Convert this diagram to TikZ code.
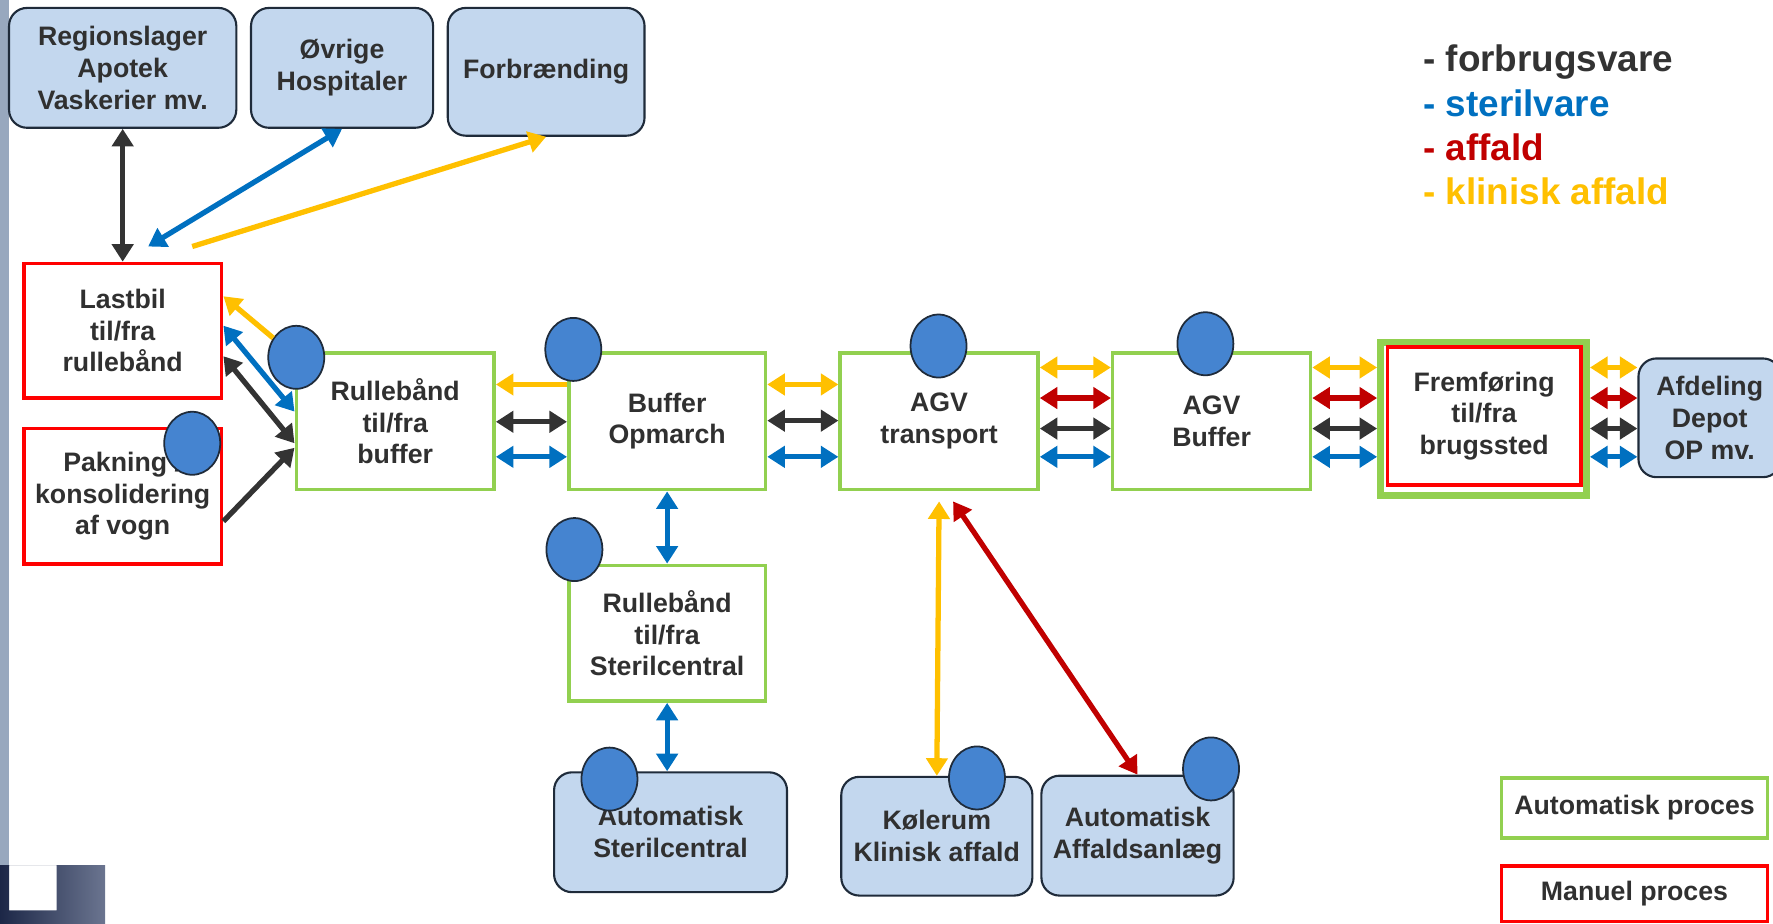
\documentclass[tikz,border=0pt]{standalone}
\usepackage{fontspec}
\setmainfont{Liberation Sans}
\usetikzlibrary{arrows.meta,shapes.geometric}
\definecolor{txt}{HTML}{303030}
\definecolor{blk}{HTML}{333333}
\definecolor{blu}{HTML}{0070C0}
\definecolor{rd}{HTML}{C00000}
\definecolor{ylw}{HTML}{FFC000}
\definecolor{grn}{HTML}{92D050}
\definecolor{mred}{HTML}{FF0000}
\definecolor{lblue}{HTML}{C3D7EE}
\definecolor{dotc}{HTML}{4584D0}
\definecolor{edgec}{HTML}{1F2B3A}
\definecolor{barc}{HTML}{98A8BE}
\definecolor{navyA}{HTML}{1C2747}
\definecolor{navyB}{HTML}{6B7590}

\begin{document}
\begin{tikzpicture}[x=0.11307mm, y=-0.11307mm,
  every node/.style={font=\bfseries\fontsize{7.6}{9}\selectfont, text=txt, align=center, inner sep=0pt},
  sz/.style 2 args={minimum width=#1*0.11307mm, minimum height=#2*0.11307mm},
  autobox/.style={draw=grn, line width=1pt},
  manbox/.style={draw=mred, line width=1pt},
  ext/.style={draw=edgec, line width=0.6pt, fill=lblue, rounded corners=1.8mm},
  dot/.style={ellipse, draw=edgec, line width=0.5pt, fill=dotc, minimum width=5.6mm, minimum height=6.3mm},
  lgd/.style={font=\bfseries\fontsize{10.5}{12.6}\selectfont, anchor=base west},
  arr/.style={line width=1.5pt, -{Triangle[length=5pt, width=6pt]}},
  dbl/.style={line width=1.5pt, {Triangle[length=5pt, width=6pt]}-{Triangle[length=5pt, width=6pt]}}]
\clip (0,0) rectangle (1568,817);
\fill[barc] (0,0) rectangle (8,765);
\shade[left color=navyA, right color=navyB, even odd rule] (0,765) rectangle (93,817) (8,765) rectangle (50,805);

\node[ext, sz={201}{106}] (reg) at (108.5,60) {Regionslager\\Apotek\\Vaskerier mv.};
\node[ext, sz={161}{106}] (hosp) at (302.5,60) {Øvrige\\Hospitaler};
\node[ext, sz={174}{113}] (forb) at (483,63.5) {Forbrænding};
\node[manbox, sz={175}{119}] (last) at (108.5,292.5) {Lastbil\\til/fra\\rullebånd};
\node[manbox, sz={175}{120}] (pak) at (108.5,439) {Pakning /\\konsolidering\\af vogn};
\node[autobox, sz={175}{121}] (rbuf) at (349.5,372.5) {Rullebånd\\til/fra\\buffer};
\node[autobox, sz={174}{121}] (buf) at (590,372.5) {Buffer\\Opmarch};
\node[autobox, sz={175}{121}] (agv) at (830.5,372.5) {AGV\\transport};
\node[autobox, sz={175}{121}] (agvb) at (1071.5,372.5) {AGV\\Buffer};
\node[draw=grn, line width=2pt, sz={182}{135}] (fremg) at (1312,370.5) {};
\node[manbox, sz={171}{122}] (frem) at (1312.5,368) {Fremføring\\til/fra\\brugssted};
\node[ext, sz={126}{105}] (afd) at (1512,369.5) {Afdeling\\Depot\\OP mv.};
\node[autobox, sz={174}{120}] (rster) at (590,560) {Rullebånd\\til/fra\\Sterilcentral};
\node[ext, sz={206}{106}] (aster) at (593,736) {Automatisk\\Sterilcentral};
\node[ext, sz={169}{105}] (kol) at (828.5,739.5) {Kølerum\\Klinisk affald};
\node[ext, sz={170}{106}] (aff) at (1006,739) {Automatisk\\Affaldsanlæg};
\node[autobox, sz={235}{53}] (lauto) at (1445.5,714.5) {Automatisk proces};
\node[manbox, sz={235}{49}] (lman) at (1445.5,790.5) {Manuel proces};

\node[lgd, text=blk] (l1) at (1258,63) {- forbrugsvare};
\node[lgd, text=blu] (l2) at (1258,103) {- sterilvare};
\node[lgd, text=rd] (l3) at (1258,142) {- affald};
\node[lgd, text=ylw] (l4) at (1258,181) {- klinisk affald};

\foreach \n/\x/\y in {c1/262/316, c2/170/392, c3/507/309, c4/830/306, c5/1066/304,
  c6/508/486, c7/539/689, c8/864/688, c9/1071/680}
  \node[dot] (\n) at (\x,\y) {};

\coordinate (t1) at (131,218);
\coordinate (t2) at (170,218);
\draw[dbl, blk] (reg.south) -- (last.north);
\draw[dbl, blu] (hosp.south) -- (t1);
\draw[arr, ylw] (t2) -- (forb.south);
\draw[arr, ylw] (c1) -- (last.east |- 0,262);
\draw[dbl, blu] (last.east |- 0,288) -- (rbuf.west |- 0,364);
\draw[dbl, blk] (last.east |- 0,315) -- (rbuf.west |- 0,392);
\draw[arr, blk] (pak.east |- 0,461) -- (rbuf.west |- 0,396);
\draw[arr, ylw] (buf.west |- 0,340) -- (rbuf.east |- 0,340);
\foreach \c/\y in {blk/373, blu/404}
  \draw[dbl, \c] (rbuf.east |- 0,\y) -- (buf.west |- 0,\y);
\foreach \c/\y in {ylw/340, blk/372, blu/404}
  \draw[dbl, \c] (buf.east |- 0,\y) -- (agv.west |- 0,\y);
\foreach \c/\y in {ylw/325, rd/352, blk/379, blu/404} {
  \draw[dbl, \c] (agv.east |- 0,\y) -- (agvb.west |- 0,\y);
  \draw[dbl, \c] (agvb.east |- 0,\y) -- (fremg.west |- 0,\y);
  \draw[dbl, \c] (fremg.east |- 0,\y) -- (afd.west |- 0,\y);
}
\draw[dbl, blu] (buf.south) -- (rster.north);
\draw[dbl, blu] (rster.south) -- (rster.south |- aster.north);
\draw[dbl, ylw] ([yshift=-1mm]agv.south) -- (kol.north);
\draw[dbl, rd] ([xshift=1.4mm,yshift=-1mm]agv.south) -- (aff.north);
\end{tikzpicture}
\end{document}
